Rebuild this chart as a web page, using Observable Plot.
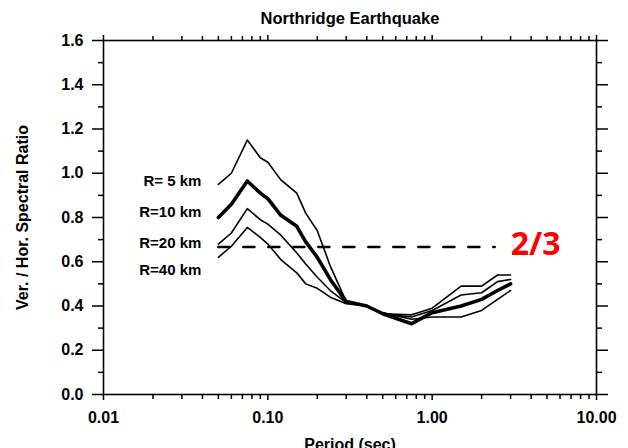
<!DOCTYPE html>
<html>
<head>
<meta charset="utf-8">
<script src="https://cdn.jsdelivr.net/npm/d3@7"></script>
<script src="https://cdn.jsdelivr.net/npm/@observablehq/plot@0.6"></script>
<style>
  html, body { margin: 0; padding: 0; background: #fff; }
  svg { display: block; }
</style>
</head>
<body>
<div id="chart"></div>
<script>
// ---- data ----
const periods = [0.05, 0.06, 0.075, 0.09, 0.1, 0.12, 0.15, 0.17, 0.2, 0.24, 0.3, 0.4, 0.5, 0.75, 1.0, 1.5, 2.0, 2.5, 3.0];
const seriesNames = ["R= 5 km", "R=10 km", "R=20 km", "R=40 km"];
const r5  = [0.95, 1.00, 1.15, 1.07, 1.05, 0.97, 0.91, 0.82, 0.74, 0.58, 0.42, 0.40, 0.37, 0.34, 0.35, 0.35, 0.38, 0.43, 0.47];
const r10 = [0.80, 0.86, 0.965, 0.91, 0.885, 0.81, 0.76, 0.69, 0.62, 0.52, 0.42, 0.40, 0.365, 0.32, 0.37, 0.40, 0.43, 0.47, 0.50];
const r20 = [0.68, 0.73, 0.84, 0.79, 0.77, 0.72, 0.64, 0.59, 0.53, 0.47, 0.415, 0.40, 0.365, 0.35, 0.38, 0.45, 0.46, 0.51, 0.52];
const r40 = [0.62, 0.67, 0.755, 0.71, 0.68, 0.61, 0.55, 0.50, 0.48, 0.44, 0.41, 0.40, 0.365, 0.36, 0.39, 0.49, 0.49, 0.54, 0.54];
const refValue = 2 / 3;
const refPeriods = [0.05, 2.4];
const refLabel = "2/3";

const xMajorTicks = [0.01, 0.1, 1, 10];
const xTickLabels = ["0.01", "0.10", "1.00", "10.00"];
const xMinorTicks = [0.02,0.03,0.04,0.05,0.06,0.07,0.08,0.09, 0.2,0.3,0.4,0.5,0.6,0.7,0.8,0.9, 2,3,4,5,6,7,8,9];
const yMajorTicks = [0, 0.2, 0.4, 0.6, 0.8, 1.0, 1.2, 1.4, 1.6];
const yTickLabels = ["0.0", "0.2", "0.4", "0.6", "0.8", "1.0", "1.2", "1.4", "1.6"];
const yMinorTicks = [0.1, 0.3, 0.5, 0.7, 0.9, 1.1, 1.3, 1.5];

const title = "Northridge Earthquake";
const xLabel = "Period (sec)";
const yLabel = "Ver. / Hor. Spectral Ratio";

// ---- build table ----
const allSeries = [r5, r10, r20, r40];
const rows = [];
allSeries.forEach((vals, si) => {
  vals.forEach((v, i) => rows.push({series: seriesNames[si], period: periods[i], ratio: v}));
});
const firstPoints = seriesNames.map((s, si) => ({series: s, period: periods[0], ratio: allSeries[si][0]}));
const labelDy = [-3, -5, -1, 13];
const refRows = refPeriods.map(p => ({period: p, ratio: refValue}));

const FONT = "Liberation Sans, Arimo, Arial, Helvetica, sans-serif";
const xFmt = d => xTickLabels[xMajorTicks.indexOf(d)];
const yFmt = d => yTickLabels[yMajorTicks.findIndex(t => Math.abs(t - d) < 1e-9)];
const blank = () => "";

const labelMarks = firstPoints.map((p, i) =>
  Plot.text([p], {x: "period", y: "ratio", text: "series", textAnchor: "end", dx: -17, dy: labelDy[i],
    fontSize: 15, fontWeight: "bold", fill: "black", fontFamily: FONT}));

const chart = Plot.plot({
  width: 628,
  height: 448,
  marginLeft: 103,
  marginRight: 32,
  marginTop: 40,
  marginBottom: 54,
  style: {fontFamily: FONT, color: "black", background: "white", overflow: "visible"},
  x: {type: "log", domain: [0.01, 10]},
  y: {domain: [0, 1.6]},
  marks: [
    // left axis
    Plot.axisY({anchor: "left", ticks: yMajorTicks, tickFormat: yFmt, tickSize: 11, tickPadding: 9,
      fontSize: 16, fontWeight: "bold", fontFamily: FONT, strokeWidth: 1.5,
      label: yLabel, labelAnchor: "center", labelOffset: 87, labelArrow: "none"}),
    Plot.axisY({anchor: "left", ticks: yMinorTicks, tickFormat: blank, tickSize: 5, strokeWidth: 1.5, label: null}),
    // right axis
    Plot.axisY({anchor: "right", ticks: yMajorTicks, tickFormat: blank, tickSize: 11, strokeWidth: 1.5, label: null}),
    Plot.axisY({anchor: "right", ticks: yMinorTicks, tickFormat: blank, tickSize: 5, strokeWidth: 1.5, label: null}),
    // bottom axis
    Plot.axisX({anchor: "bottom", ticks: xMajorTicks, tickFormat: xFmt, tickSize: 6, tickPadding: 11,
      fontSize: 16, fontWeight: "bold", fontFamily: FONT, strokeWidth: 1.5, label: null}),
    Plot.axisX({anchor: "bottom", ticks: xMinorTicks, tickFormat: blank, tickSize: 5, strokeWidth: 1.5, label: null}),
    // top axis
    Plot.axisX({anchor: "top", ticks: xMajorTicks, tickFormat: blank, tickSize: 6, strokeWidth: 1.5, label: null}),
    Plot.axisX({anchor: "top", ticks: xMinorTicks, tickFormat: blank, tickSize: 5, strokeWidth: 1.5, label: null}),
    Plot.frame({stroke: "black", strokeWidth: 1.6}),
    // reference line 2/3
    Plot.line(refRows, {x: "period", y: "ratio", stroke: "black", strokeWidth: 2.6, strokeDasharray: "11,14"}),
    Plot.text([refLabel], {x: refPeriods[1], y: refValue, text: d => d, textAnchor: "start", dx: 16, dy: -2,
      fill: "#ff0000", fontSize: 32, fontWeight: "bold", fontFamily: "Open Sans, sans-serif"}),
    // curves
    Plot.line(rows.filter(d => d.series !== "R=10 km"), {x: "period", y: "ratio", z: "series", stroke: "black", strokeWidth: 1.6}),
    Plot.line(rows.filter(d => d.series === "R=10 km"), {x: "period", y: "ratio", stroke: "black", strokeWidth: 3.6}),
    // series labels
    ...labelMarks,
    // titles
    Plot.text([title], {frameAnchor: "top", text: d => d, dy: -28, fontSize: 16.5, fontWeight: "bold", fill: "black", fontFamily: FONT}),
    Plot.text([xLabel], {frameAnchor: "bottom", text: d => d, dy: 44, lineAnchor: "top", fontSize: 16, fontWeight: "bold", fill: "black", fontFamily: FONT})
  ]
});

document.getElementById("chart").appendChild(chart);
</script>
</body>
</html>
